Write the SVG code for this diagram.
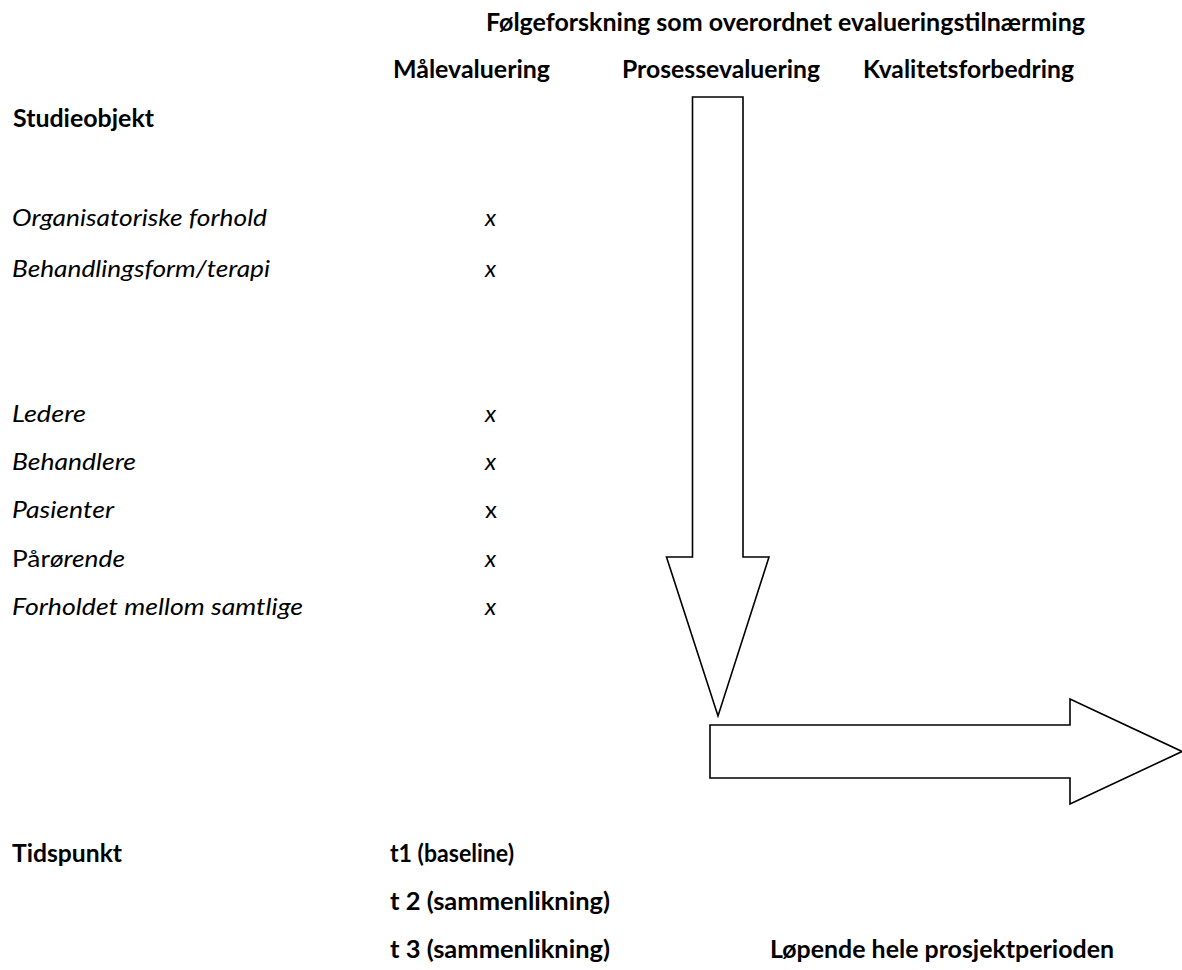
<svg xmlns="http://www.w3.org/2000/svg" width="1182" height="970" viewBox="0 0 1182 970">
<style>
text{font-family:Lato,"Liberation Sans",sans-serif;font-size:24px;fill:#000}
.b{font-weight:bold}
.i{font-style:italic}
.shape{fill:#fff;stroke:#000;stroke-width:1.6;stroke-linejoin:miter}
</style>
<rect width="1182" height="970" fill="#fff"/>
<g id="header">
<text class="b" x="486" y="31" textLength="599" lengthAdjust="spacingAndGlyphs">Følgeforskning som overordnet evalueringstilnærming</text>
<text class="b" x="393" y="78" textLength="157" lengthAdjust="spacingAndGlyphs">Målevaluering</text>
<text class="b" x="622" y="78" textLength="198" lengthAdjust="spacingAndGlyphs">Prosessevaluering</text>
<text class="b" x="863" y="78" textLength="211" lengthAdjust="spacingAndGlyphs">Kvalitetsforbedring</text>
</g>
<g id="studieobjekt">
<text class="b" x="13" y="127" textLength="141" lengthAdjust="spacingAndGlyphs">Studieobjekt</text>
</g>
<g id="rows">
<g id="row-organisatoriske"><text class="i" x="12" y="226" textLength="255" lengthAdjust="spacingAndGlyphs">Organisatoriske forhold</text><text class="i" x="485" y="226">x</text></g>
<g id="row-behandlingsform"><text class="i" x="12" y="277" textLength="258" lengthAdjust="spacingAndGlyphs">Behandlingsform/terapi</text><text class="i" x="485" y="277">x</text></g>
<g id="row-ledere"><text class="i" x="12" y="422" textLength="74" lengthAdjust="spacingAndGlyphs">Ledere</text><text class="i" x="485" y="422">x</text></g>
<g id="row-behandlere"><text class="i" x="12" y="470" textLength="124" lengthAdjust="spacingAndGlyphs">Behandlere</text><text class="i" x="485" y="470">x</text></g>
<g id="row-pasienter"><text class="i" x="12" y="518" textLength="102" lengthAdjust="spacingAndGlyphs">Pasienter</text><text x="485" y="518">x</text></g>
<g id="row-parorende"><text x="12" y="567" textLength="113" lengthAdjust="spacingAndGlyphs">Pår<tspan class="i">ørende</tspan></text><text class="i" x="485" y="567">x</text></g>
<g id="row-forholdet"><text class="i" x="12" y="615" textLength="291" lengthAdjust="spacingAndGlyphs">Forholdet mellom samtlige</text><text class="i" x="485" y="615">x</text></g>
</g>
<g id="arrows">
<polygon id="arrow-down" class="shape" points="692.5,97 743,97 743,557 769,557 718,716 666.5,557 692.5,557"/>
<polygon id="arrow-right" class="shape" points="710,725 1070,725 1070,699 1182,751.5 1070,804 1070,778 710,778"/>
</g>
<g id="tidspunkt">
<text class="b" x="12" y="862" textLength="110" lengthAdjust="spacingAndGlyphs">Tidspunkt</text>
<text class="b" x="390" y="862" textLength="124" lengthAdjust="spacingAndGlyphs">t1 (baseline)</text>
<text class="b" x="390" y="910" textLength="220" lengthAdjust="spacingAndGlyphs">t 2 (sammenlikning)</text>
<text class="b" x="390" y="958" textLength="220" lengthAdjust="spacingAndGlyphs">t 3 (sammenlikning)</text>
<text class="b" x="770" y="958" textLength="344" lengthAdjust="spacingAndGlyphs">Løpende hele prosjektperioden</text>
</g>
</svg>
